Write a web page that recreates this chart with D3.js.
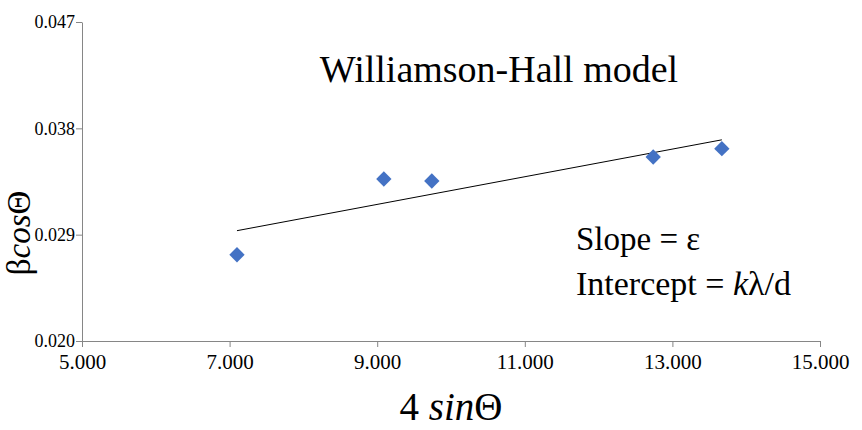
<!DOCTYPE html>
<html><head><meta charset="utf-8">
<script src="https://cdn.jsdelivr.net/npm/d3@7"></script>
</head><body style="margin:0"><svg id="c" width="862" height="430" style="font-family:'Liberation Serif'"></svg>
<script>
const xValues = [7.10, 9.09, 9.74, 12.74, 13.67];
const yValues = [0.02730, 0.03371, 0.03354, 0.03557, 0.03628];
const xTicks = [5, 7, 9, 11, 13, 15];
const yTicks = [0.020, 0.029, 0.038, 0.047];
const chartTitle = "Williamson-Hall model";

const FONT = "'Liberation Serif'";
const svg = d3.select("#c");
const L = 82, R = 820, T = 22, B = 341;
const x = d3.scaleLinear().domain([5, 15]).range([L, R]);
const y = d3.scaleLinear().domain([0.020, 0.047]).range([B, T]);
const axisColor = "#868686";

function txt(sel, size) {
  return sel.style("font-family", FONT).style("font-size", size + "px").attr("fill", "#000");
}

const gx = svg.append("g").attr("transform", `translate(0,${B})`)
  .call(d3.axisBottom(x).tickValues(xTicks).tickFormat(d3.format(".3f")).tickSize(6).tickSizeOuter(0));
const gy = svg.append("g").attr("transform", `translate(${L},0)`)
  .call(d3.axisLeft(y).tickValues(yTicks).tickFormat(d3.format(".3f")).tickSize(6).tickSizeOuter(0));
[gx, gy].forEach(g => {
  g.attr("font-family", null).attr("font-size", null);
  g.select(".domain").attr("stroke", axisColor).attr("stroke-width", 1);
  g.selectAll(".tick line").attr("stroke", axisColor);
});
txt(gx.selectAll(".tick text"), 21).attr("y", 10).attr("dy", "0.85em");
txt(gy.selectAll(".tick text"), 18).attr("x", -7).attr("dy", "0.33em");

// least squares trendline
const n = xValues.length;
const mx = d3.mean(xValues), my = d3.mean(yValues);
let sxy = 0, sxx = 0;
for (let i = 0; i < n; i++) { sxy += (xValues[i]-mx)*(yValues[i]-my); sxx += (xValues[i]-mx)**2; }
const slope = sxy / sxx, icpt = my - slope*mx;
const x0 = d3.min(xValues), x1 = d3.max(xValues);
svg.append("line")
  .attr("x1", x(x0)).attr("y1", y(icpt + slope*x0))
  .attr("x2", x(x1)).attr("y2", y(icpt + slope*x1))
  .attr("stroke", "#000").attr("stroke-width", 1);

svg.append("g").selectAll("path").data(xValues.map((v,i)=>[v,yValues[i]])).join("path")
  .attr("d", d3.symbol(d3.symbolDiamond2, 150)())
  .attr("transform", d => `translate(${x(d[0])},${y(d[1])})`)
  .attr("fill", "#4472C4");

txt(svg.append("text"), 38).attr("x", 499).attr("y", 82).attr("text-anchor", "middle").text(chartTitle);

txt(svg.append("text"), 33).attr("x", 576).attr("y", 250).text("Slope = ε");
const t2 = txt(svg.append("text"), 34).attr("x", 576).attr("y", 295);
t2.append("tspan").text("Intercept = ");
t2.append("tspan").style("font-style", "italic").text("k");
t2.append("tspan").text("λ/d");

const xt = txt(svg.append("text"), 39).attr("x", 451).attr("y", 420).attr("text-anchor", "middle");
xt.append("tspan").text("4 ");
xt.append("tspan").style("font-style", "italic").text("sin");
xt.append("tspan").text("Θ");

// y title: three rotated pieces laid end to end
const yParts = [["β ", "normal"], ["cos", "italic"], ["Θ", "normal"]];
const yg = svg.append("g").attr("transform", "translate(30,233) rotate(-90)");
const pieces = yParts.map(([s, fs]) => txt(yg.append("text"), 33).style("font-style", fs).attr("y", 0).text(s));
const widths = pieces.map(p => p.node().getComputedTextLength());
const total = d3.sum(widths);
let cx = -total / 2;
pieces.forEach((p, i) => { p.attr("x", cx); cx += widths[i]; });
</script></body></html>
